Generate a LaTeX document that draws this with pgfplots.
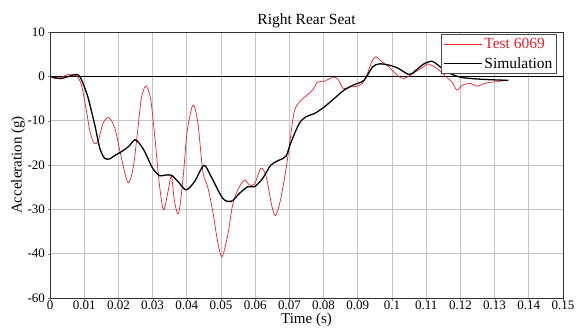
\documentclass[border=0pt]{standalone}
\usepackage{pgfplots}
\pgfplotsset{compat=1.18}
\usepackage{fontspec}
\setmainfont{Liberation Serif}
\definecolor{testred}{HTML}{E8202A}
\definecolor{gridc}{HTML}{C4C4C4}
\begin{document}
\begin{tikzpicture}
\path[use as bounding box] (-50pt,-32pt) rectangle (527pt,298pt);
\begin{axis}[
  at={(0pt,0pt)}, anchor=south west,
  scale only axis, width=513pt, height=266pt,
  xmin=0, xmax=0.15, ymin=-50, ymax=10,
  xtick={0,0.01,...,0.15},
  xticklabels={0,0.01,0.02,0.03,0.04,0.05,0.06,0.07,0.08,0.09,0.1,0.11,0.12,0.13,0.14,0.15},
  ytick={-50,-40,-30,-20,-10,0,10},
  yticklabels={-60,-40,-30,-20,-10,0,10},
  /pgf/number format/assume math mode=true,
  ticklabel style={font=\fontsize{13}{14}\selectfont},
  xticklabel style={yshift=3pt},
  yticklabel style={xshift=1pt},
  tick align=outside, tick pos=left, major tick length=2.5pt,
  grid=major, major grid style={gridc, line width=0.8pt},
  axis line style={black!80, line width=0.8pt},
  title={Right Rear Seat}, title style={font=\fontsize{15.5}{17}\selectfont, yshift=-5pt},
  xlabel={Time (s)}, xlabel style={font=\fontsize{15}{16}\selectfont, yshift=4pt},
  ylabel={Acceleration (g)}, ylabel style={font=\fontsize{15}{17}\selectfont, yshift=-4pt},
  legend style={at={(0.988,0.992)}, anchor=north east, draw=black!70, fill=white,
    font=\fontsize{15.5}{17}\selectfont, inner xsep=2pt, inner ysep=2pt, row sep=3pt,
    line width=0.8pt},
  legend cell align=left,
  legend image code/.code={\draw[#1] (0pt,0pt) -- (38pt,0pt);},
]
\draw[black, line width=0.7pt] (axis cs:0,0) -- (axis cs:0.15,0);
\addplot[testred, line width=0.7pt, smooth, tension=0.5] coordinates {
(0,0) (0.0015,-0.5) (0.003,-0.3) (0.0058,0.5) (0.0078,0.1) (0.0092,-2) (0.0107,-8)
(0.0117,-12.5) (0.0129,-15.1) (0.0141,-14.6) (0.0155,-10.6) (0.0172,-9.3) (0.019,-11.8)
(0.0209,-18.5) (0.0228,-24) (0.0243,-20.7) (0.0256,-12.5) (0.0267,-5) (0.028,-2.2)
(0.0294,-5) (0.0306,-13.3) (0.032,-24.5) (0.0332,-30.1) (0.0345,-26) (0.0355,-22.5)
(0.0364,-28.2) (0.0376,-30.9) (0.0389,-23) (0.0401,-12.5) (0.0418,-6.5) (0.0432,-10.3)
(0.0447,-21.5) (0.0461,-24.9) (0.0476,-30.5) (0.049,-37.2) (0.0503,-40.7) (0.052,-35.7)
(0.0534,-29) (0.0551,-25.3) (0.0569,-23.4) (0.0583,-24.5) (0.0598,-24.3) (0.0617,-20.7)
(0.0632,-22.6) (0.0648,-29) (0.0659,-31.4) (0.0673,-28.2) (0.069,-21) (0.0700,-15.5)
(0.0714,-8) (0.0729,-5.8) (0.0749,-4.4) (0.0768,-3.1) (0.0782,-1.3) (0.0802,-1.1)
(0.0821,-0.4) (0.0833,-0.2) (0.0843,-0.8) (0.0858,-2.8) (0.0875,-2.4) (0.0894,-2.3)
(0.0913,-1.6) (0.0928,0.6) (0.094,3.2) (0.0952,4.4) (0.0972,3.2) (0.0991,2.1)
(0.1016,0.2) (0.1035,-0.5) (0.1064,0.8) (0.1093,2.2) (0.1105,2.8) (0.1127,2.0)
(0.115,0.5) (0.1175,-1.3) (0.119,-3.1) (0.1205,-2) (0.123,-1.6) (0.1245,-2.2)
(0.1258,-2) (0.128,-1.4) (0.131,-1.2) (0.133,-0.8)
};
\addlegendentry{\textcolor{testred}{Test 6069}}
\addplot[black, line width=1.3pt, smooth, tension=0.5] coordinates {
(0,0) (0.003,-0.5) (0.0055,0) (0.0075,0.4) (0.0087,0) (0.0100,-2.3) (0.0112,-5)
(0.0131,-11) (0.0146,-16.3) (0.016,-18.5) (0.0175,-18.6) (0.019,-17.8) (0.0209,-17)
(0.023,-15.8) (0.0248,-14.3) (0.0262,-15.2) (0.0277,-17) (0.030,-20.7) (0.032,-22.4)
(0.0335,-22.3) (0.0355,-22.3) (0.0375,-23.8) (0.0398,-25.6) (0.0423,-23.7) (0.045,-20.1)
(0.0471,-22.6) (0.0505,-27.5) (0.053,-28.2) (0.0554,-26.4) (0.0578,-24.9) (0.0598,-24.9)
(0.0622,-23) (0.0646,-20) (0.067,-18.9) (0.069,-18) (0.0705,-14.8) (0.0729,-10.6)
(0.0749,-9.1) (0.0773,-8.4) (0.0802,-6.9) (0.0831,-5) (0.086,-3.1) (0.0889,-1.9)
(0.0918,-0.9) (0.0943,2.1) (0.0962,2.8) (0.0987,2.6) (0.1016,1.9) (0.105,0.4)
(0.1069,1.3) (0.1093,2.8) (0.1117,3.4) (0.1135,2.5) (0.116,1) (0.12,-0.2) (0.125,-0.6)
(0.13,-0.8) (0.134,-0.9)
};
\addlegendentry{Simulation}
\end{axis}
\end{tikzpicture}
\end{document}
